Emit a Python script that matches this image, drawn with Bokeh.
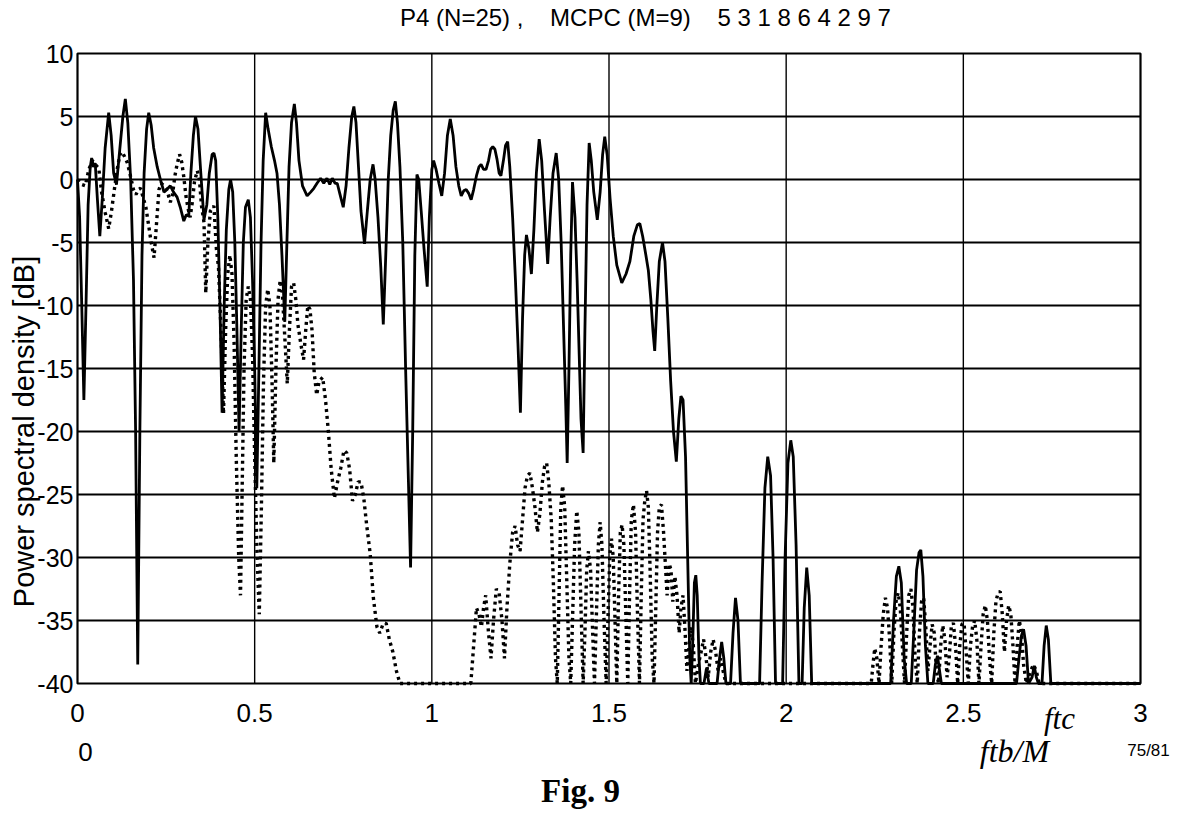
import math
from bokeh.plotting import figure
from bokeh.models import Range1d, FixedTicker, Label, BoxAnnotation
from bokeh.embed import file_html
from bokeh.resources import INLINE

# ---------------- data ----------------
NB = "\u00a0"
title_text = "P4 (N=25) ," + NB * 4 + "MCPC (M=9)" + NB * 4 + "5 3 1 8 6 4 2 9 7"
y_label = "Power spectral density [dB]"
x_ticks = [0, 0.5, 1, 1.5, 2, 2.5, 3]
x_tick_labels = ["0", "0.5", "1", "1.5", "2", "2.5", "3"]
y_ticks = [-40, -35, -30, -25, -20, -15, -10, -5, 0, 5, 10]
y_tick_labels = ["-40", "-35", "-30", "-25", "-20", "-15", "-10", "-5", "0", "5", "10"]

solid_x = [0.000, 0.006, 0.012, 0.018, 0.024, 0.030, 0.036, 0.040, 0.045, 0.050, 0.056, 0.063, 0.070, 0.078, 0.088, 0.095, 0.102, 0.110, 0.118, 0.128, 0.135, 0.142, 0.150, 0.158, 0.164, 0.170, 0.176, 0.182, 0.188, 0.195, 0.201, 0.208, 0.215, 0.225, 0.234, 0.244, 0.252, 0.262, 0.271, 0.281, 0.290, 0.300, 0.307, 0.314, 0.320, 0.327, 0.333, 0.340, 0.348, 0.357, 0.365, 0.372, 0.380, 0.385, 0.390, 0.396, 0.402, 0.408, 0.414, 0.420, 0.427, 0.432, 0.438, 0.444, 0.450, 0.456, 0.462, 0.468, 0.474, 0.482, 0.488, 0.494, 0.500, 0.506, 0.512, 0.518, 0.524, 0.531, 0.538, 0.547, 0.556, 0.563, 0.570, 0.577, 0.585, 0.591, 0.597, 0.604, 0.612, 0.618, 0.625, 0.635, 0.648, 0.658, 0.667, 0.676, 0.686, 0.695, 0.704, 0.712, 0.719, 0.727, 0.733, 0.741, 0.750, 0.758, 0.766, 0.774, 0.780, 0.786, 0.793, 0.800, 0.810, 0.818, 0.826, 0.834, 0.840, 0.848, 0.856, 0.863, 0.870, 0.877, 0.884, 0.891, 0.897, 0.903, 0.910, 0.918, 0.926, 0.934, 0.940, 0.946, 0.952, 0.958, 0.963, 0.970, 0.978, 0.987, 0.993, 1.000, 1.005, 1.012, 1.020, 1.028, 1.036, 1.044, 1.052, 1.060, 1.068, 1.076, 1.083, 1.090, 1.097, 1.104, 1.111, 1.118, 1.126, 1.133, 1.139, 1.146, 1.153, 1.160, 1.166, 1.172, 1.178, 1.184, 1.190, 1.195, 1.202, 1.208, 1.214, 1.220, 1.228, 1.236, 1.243, 1.250, 1.256, 1.262, 1.267, 1.274, 1.281, 1.288, 1.295, 1.303, 1.310, 1.318, 1.327, 1.334, 1.342, 1.351, 1.358, 1.365, 1.372, 1.378, 1.382, 1.387, 1.392, 1.397, 1.404, 1.410, 1.416, 1.421, 1.427, 1.432, 1.438, 1.444, 1.450, 1.457, 1.467, 1.475, 1.482, 1.488, 1.495, 1.503, 1.512, 1.522, 1.536, 1.548, 1.559, 1.570, 1.580, 1.587, 1.595, 1.604, 1.611, 1.618, 1.624, 1.629, 1.635, 1.642, 1.651, 1.658, 1.666, 1.674, 1.682, 1.690, 1.697, 1.703, 1.709, 1.716, 1.722, 1.728, 1.732, 1.736, 1.741, 1.745, 1.749, 1.754, 1.758, 1.768, 1.775, 1.782, 1.805, 1.812, 1.818, 1.824, 1.830, 1.843, 1.850, 1.857, 1.864, 1.871, 1.925, 1.932, 1.940, 1.948, 1.956, 1.963, 1.970, 1.990, 1.997, 2.005, 2.013, 2.020, 2.028, 2.036, 2.045, 2.051, 2.058, 2.065, 2.072, 2.295, 2.303, 2.311, 2.318, 2.325, 2.333, 2.340, 2.353, 2.360, 2.368, 2.375, 2.380, 2.386, 2.393, 2.400, 2.415, 2.421, 2.427, 2.433, 2.438, 2.650, 2.657, 2.664, 2.670, 2.677, 2.684, 2.694, 2.700, 2.706, 2.712, 2.722, 2.728, 2.734, 2.740, 2.747, 3.000]
solid_db = [0.0, -3, -10, -17.5, -10, -2, 1.0, 1.7, 1.0, 1.3, -1.5, -4.5, -1.5, 2.5, 5.3, 3.5, 0.5, -0.4, 2.0, 5.0, 6.4, 4.5, 0, -8, -20, -38.5, -20, -6, 0.5, 4.0, 5.3, 4.3, 2.5, 1.0, 0.0, -1.0, -0.8, -0.5, -1.0, -1.4, -2.2, -3.3, -2.8, -2.9, 0.5, 3.5, 5.0, 4.0, 0.5, -3.2, -2.0, 0.5, 2.0, 2.1, 1.5, -3, -10, -18.5, -10, -4, -0.8, 0.0, -1, -5, -12, -20, -12, -5, -2.2, -1.6, -3, -8, -15, -24.5, -15, -5, 1.5, 5.3, 4.0, 2.6, 1.5, 0.5, -2, -6, -11.3, -5, 1, 4.5, 6.0, 4.5, 1.5, -0.5, -1.3, -1.0, -0.7, -0.3, 0.1, -0.3, 0.1, -0.4, 0.1, -0.3, -0.3, -1.2, -2.2, -0.5, 2.5, 5.0, 5.8, 4.5, 1.0, -2.5, -5.1, -2.5, 0.0, 1.2, 0.0, -3, -7, -11.5, -6, 0, 3.5, 5.5, 6.2, 4.5, 1.0, -5, -15, -24, -30.8, -20, -6, 0.4, 0.0, -2.5, -5.5, -8.5, -3, 0.8, 1.5, 0.8, -0.3, -1.3, 0.5, 3.5, 4.8, 3.5, 1.0, -0.5, -1.3, -0.9, -0.8, -1.1, -1.6, -0.8, 0.3, 1.0, 1.2, 0.8, 0.8, 1.5, 2.4, 2.6, 2.4, 1.6, 0.5, 0.3, 1.5, 2.7, 3.0, 1.0, -3, -8, -13, -18.5, -11, -6, -4.4, -5.5, -7.5, -4, 0.5, 3.2, 1.5, -2.5, -6.7, -3, 0.5, 2.1, 0, -5, -12, -18, -22.5, -15, -6, -0.2, -3, -8, -14, -19, -21.7, -12, -2, 2.9, 1.5, -1.0, -3.2, -1.0, 2.0, 3.4, 1.9, -1.5, -4.5, -6.8, -8.2, -7.5, -6.5, -4.5, -3.6, -3.5, -4.5, -6.0, -7.2, -9.5, -12, -13.6, -10, -6.5, -5.0, -6.5, -11, -16, -20, -22.4, -19, -17.2, -17.5, -22, -30, -38, -40, -37, -32, -31.4, -33, -38, -40, -40, -38.8, -40, -40, -38, -36.7, -38, -40, -40, -36, -33.2, -35, -40, -40, -32, -24.5, -22.0, -23.5, -30, -40, -40, -30, -22.5, -20.7, -22, -29, -40, -40, -34, -30.8, -33, -40, -40, -35, -31.5, -30.7, -32, -38, -40, -40, -36, -31, -29.6, -29.4, -31.5, -37, -40, -40, -38.5, -37.8, -39, -40, -40, -38, -36.2, -35.7, -37, -40, -39.5, -38.6, -39.5, -40, -40, -37, -35.4, -36.5, -40, -40]

dotted_x = [0.000, 0.012, 0.022, 0.032, 0.042, 0.050, 0.060, 0.068, 0.078, 0.088, 0.096, 0.104, 0.112, 0.120, 0.126, 0.133, 0.141, 0.150, 0.158, 0.165, 0.172, 0.178, 0.186, 0.193, 0.200, 0.208, 0.216, 0.223, 0.230, 0.236, 0.244, 0.250, 0.256, 0.262, 0.268, 0.275, 0.281, 0.288, 0.294, 0.300, 0.306, 0.312, 0.318, 0.324, 0.330, 0.338, 0.344, 0.350, 0.357, 0.362, 0.368, 0.375, 0.385, 0.392, 0.398, 0.405, 0.412, 0.418, 0.424, 0.430, 0.436, 0.442, 0.448, 0.455, 0.460, 0.465, 0.470, 0.476, 0.482, 0.488, 0.494, 0.500, 0.507, 0.513, 0.519, 0.525, 0.531, 0.537, 0.543, 0.549, 0.554, 0.560, 0.566, 0.572, 0.578, 0.585, 0.592, 0.598, 0.604, 0.610, 0.616, 0.622, 0.630, 0.638, 0.644, 0.650, 0.656, 0.662, 0.668, 0.675, 0.682, 0.692, 0.700, 0.708, 0.716, 0.725, 0.734, 0.743, 0.752, 0.760, 0.768, 0.776, 0.784, 0.792, 0.800, 0.808, 0.816, 0.826, 0.835, 0.845, 0.853, 0.862, 0.871, 0.880, 0.890, 0.900, 0.910, 1.110, 1.118, 1.126, 1.133, 1.140, 1.146, 1.152, 1.160, 1.167, 1.174, 1.182, 1.190, 1.198, 1.205, 1.212, 1.220, 1.228, 1.235, 1.242, 1.249, 1.256, 1.263, 1.270, 1.277, 1.284, 1.291, 1.298, 1.305, 1.312, 1.318, 1.324, 1.330, 1.337, 1.343, 1.349, 1.354, 1.359, 1.364, 1.369, 1.375, 1.381, 1.387, 1.392, 1.397, 1.403, 1.409, 1.415, 1.421, 1.427, 1.432, 1.437, 1.442, 1.448, 1.454, 1.459, 1.465, 1.470, 1.475, 1.480, 1.486, 1.492, 1.497, 1.502, 1.507, 1.512, 1.517, 1.522, 1.527, 1.532, 1.537, 1.542, 1.548, 1.553, 1.558, 1.563, 1.569, 1.575, 1.580, 1.586, 1.591, 1.596, 1.601, 1.606, 1.611, 1.616, 1.622, 1.627, 1.632, 1.637, 1.642, 1.648, 1.654, 1.659, 1.664, 1.670, 1.675, 1.680, 1.686, 1.692, 1.698, 1.703, 1.709, 1.715, 1.720, 1.726, 1.732, 1.738, 1.744, 1.752, 1.760, 1.767, 1.774, 1.780, 1.787, 1.794, 1.801, 1.808, 1.815, 1.822, 1.830, 2.240, 2.245, 2.250, 2.256, 2.262, 2.268, 2.274, 2.280, 2.286, 2.292, 2.298, 2.304, 2.310, 2.316, 2.322, 2.328, 2.334, 2.340, 2.346, 2.352, 2.358, 2.364, 2.370, 2.376, 2.382, 2.388, 2.394, 2.400, 2.406, 2.412, 2.418, 2.424, 2.430, 2.436, 2.442, 2.448, 2.454, 2.460, 2.466, 2.472, 2.478, 2.484, 2.490, 2.496, 2.502, 2.508, 2.514, 2.520, 2.526, 2.532, 2.538, 2.544, 2.550, 2.556, 2.562, 2.568, 2.574, 2.580, 2.586, 2.592, 2.598, 2.604, 2.610, 2.616, 2.622, 2.628, 2.634, 2.640, 2.646, 2.652, 2.658, 2.664, 2.670, 2.678, 2.690, 2.698, 2.706, 2.714, 3.000]
dotted_db = [0.0, -0.4, -0.5, 0.8, 1.5, 1.2, 0.9, -1.0, -2.6, -3.9, -2.5, -0.8, 0.8, 2.0, 2.2, 1.8, 1.3, 0.2, -0.8, -1.2, -0.8, -0.7, -1.5, -2.2, -3.5, -5.0, -6.2, -3.5, -0.8, -0.3, -0.5, -0.7, -1.2, -1.8, -1.2, 0.3, 1.2, 2.0, 1.4, 0.2, -1.3, -2.3, -3.0, -1.8, -0.2, 0.7, 0.0, -2.1, -3.4, -9.0, -5, -2.5, -2.1, -5.5, -7, -12, -18.6, -12, -7.5, -6, -7.5, -13, -22, -30, -33.0, -24, -15, -9.5, -8.5, -9.5, -14, -22, -30, -34.5, -26, -16, -10, -8.7, -10, -16, -22.5, -15, -9.5, -8.0, -9, -12.5, -16.2, -12, -8.5, -8.2, -9.5, -11.5, -13, -14.3, -12, -10, -10.3, -12, -15.3, -17.1, -16, -15.7, -17.5, -20, -23, -25.3, -24, -22.9, -21.5, -21.7, -23, -25.5, -25, -24, -24, -25.3, -27.4, -29.7, -33.2, -35.5, -36, -35.3, -35.2, -36.5, -37.5, -39, -40, -40, -37, -34, -34.5, -35.5, -34, -33, -36, -38, -35, -32.5, -32.8, -35, -38, -34, -30.5, -28, -27.5, -29, -29.5, -27, -24.5, -23.5, -23.3, -24.5, -26, -28, -26.5, -24, -22.8, -22.5, -24, -27, -32, -38, -40, -33, -26, -24.3, -26, -32, -38, -40, -35, -29, -26.3, -28, -34, -40, -36, -31, -29.5, -31, -36, -40, -34, -29, -27.2, -29, -35, -40, -35, -30, -28.5, -30, -35, -40, -33, -28, -27.4, -29, -35, -40, -33, -27, -25.8, -28, -34, -40, -33, -27, -25.5, -24.7, -26, -31, -38, -40, -34, -28, -26, -25.8, -28, -30.5, -33, -30.5, -31, -33.5, -31.5, -33, -36, -34, -33, -36, -39, -37, -35.5, -37, -40, -38.5, -37.5, -36.5, -38, -39.5, -37.5, -36.5, -37.5, -39, -38, -39, -40, -40, -38.5, -37.2, -38, -40, -37, -34.5, -33.2, -34, -36.5, -40, -36, -33.5, -32.8, -34, -37, -40, -36, -33, -32.5, -34, -38, -40, -36, -33.5, -33.2, -35.5, -39, -37, -35.3, -36, -39, -40, -37, -35.4, -36.5, -39.5, -38, -35.5, -35.2, -37, -40, -37, -35.3, -35.2, -37.5, -40, -37, -35.5, -35, -36.5, -40, -37, -34.5, -33.8, -35, -38, -40, -36, -33.5, -32.8, -32.7, -34.5, -37.5, -35, -33.8, -34.5, -37, -40, -37, -35, -36, -38.5, -40, -39, -38.5, -39, -40, -40]

# ---------------- layout (pixels) ----------------
W, H = 1180, 814
FL, FR, FT, FB = 77, 1140, 53, 683          # plot box in page pixels
xlo, xhi = x_ticks[0], x_ticks[-1]
ylo, yhi = y_ticks[0], y_ticks[-1]
sx = (FR - FL) / (xhi - xlo)
sy = (FB - FT) / (yhi - ylo)
X0 = xlo - FL / sx
X1 = xhi + (W - FR) / sx
Y1 = yhi + FT / sy
Y0 = ylo - (H - FB) / sy

def px_x(px):
    return xlo + (px - FL) / sx

def px_y(py):
    return yhi - (py - FT) / sy

p = figure(width=W, height=H, output_backend="svg", toolbar_location=None,
           x_range=Range1d(X0, X1), y_range=Range1d(Y0, Y1),
           min_border=0, min_border_left=0, min_border_right=0,
           min_border_top=0, min_border_bottom=0)
p.title.visible = False
p.background_fill_color = "white"
p.border_fill_color = "white"
p.outline_line_color = None
p.grid.visible = False

p.xaxis.fixed_location = ylo
p.yaxis.fixed_location = xlo
p.xaxis.ticker = FixedTicker(ticks=x_ticks)
p.xaxis.major_label_overrides = {t: s for t, s in zip(x_ticks, x_tick_labels)}
p.yaxis.ticker = FixedTicker(ticks=y_ticks)
p.yaxis.major_label_overrides = {t: s for t, s in zip(y_ticks, y_tick_labels)}
for ax in (p.xaxis[0], p.yaxis[0]):
    ax.axis_line_color = None
    ax.major_tick_in = 0
    ax.major_tick_out = 0
    ax.minor_tick_in = 0
    ax.minor_tick_out = 0
    ax.major_label_text_font = "Liberation Sans"
    ax.major_label_text_font_size = "26px"
    ax.major_label_text_color = "black"
p.yaxis.major_label_text_font_size = "25px"
p.xaxis.major_label_standoff = 20
p.yaxis.major_label_standoff = 4

# grid lines from the tick arrays
inner_x = x_ticks[1:-1]
inner_y = y_ticks[1:-1]
p.segment(x0=inner_x, y0=[ylo] * len(inner_x), x1=inner_x, y1=[yhi] * len(inner_x),
          line_color="black", line_width=1.4)
p.segment(x0=[xlo] * len(inner_y), y0=inner_y, x1=[xhi] * len(inner_y), y1=inner_y,
          line_color="black", line_width=1.9)

p.line(dotted_x, dotted_db, line_color="black", line_width=3.4, line_dash="3 4")
p.line(solid_x, solid_db, line_color="black", line_width=2.8)

p.add_layout(BoxAnnotation(left=xlo, right=xhi, bottom=ylo, top=yhi, fill_alpha=0,
                           line_color="black", line_width=2.2, line_alpha=1))

# ---------------- texts ----------------
def lab(x, y, text, font, size, style="normal", angle=0.0, baseline="middle"):
    p.add_layout(Label(x=x, y=y, text=text, text_align="center", text_baseline=baseline,
                       text_font=font, text_font_size=size, text_font_style=style,
                       text_color="black", angle=angle))

lab(px_x(645), px_y(17), title_text, "Liberation Sans", "24px")
lab(px_x(23), px_y(431), y_label, "Liberation Sans", "29px", angle=math.pi / 2)
lab(px_x(85), px_y(751), "0", "Liberation Sans", "26px")
lab(px_x(1014), px_y(750), "ftb/M", "Liberation Serif", "32px", style="italic")
lab(px_x(1148), px_y(750), "75/81", "Liberation Sans", "17px")
lab(px_x(1059), px_y(718), "ftc", "Liberation Serif", "31px", style="italic", baseline="alphabetic")
lab(px_x(580), px_y(790), "Fig. 9", "Liberation Serif", "33px", style="bold")

open("out.html", "w").write(file_html(p, INLINE))
